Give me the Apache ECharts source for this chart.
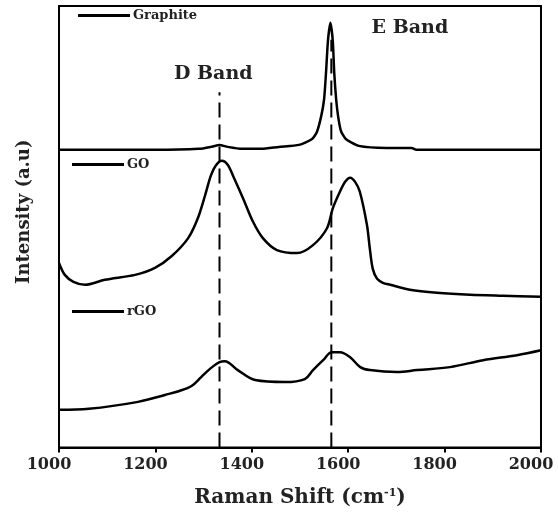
<!DOCTYPE html>
<html>
<head>
<meta charset="utf-8">
<script src="https://cdn.jsdelivr.net/npm/echarts@6/dist/echarts.min.js"></script>
<style>html,body{margin:0;padding:0;background:#fff}#c{width:558px;height:513px}</style>
</head>
<body>
<div id="c"></div>
<script>
// Raman shift (cm^-1) and intensity (a.u., offset stacked)
var graphiteX = [1000,1100,1200,1290,1315,1333,1350,1380,1420,1456,1498,1525,1535,1544,1550,1554,1558,1563,1568,1571,1575,1579,1585,1595,1622,1680,1732,1741,1800,1900,2000];
var graphiteY = [300,300,300,301,303,305,303,301,301,303,305,311,318,334,351,378,410,428,410,378,351,334,319,311,304,302,302,300,300,300,300];

var goX = [1000,1012,1030,1054,1095,1158,1199,1234,1268,1288,1303,1315,1325,1338,1350,1361,1382,1402,1423,1452,1494,1527,1556,1568,1583,1594,1604,1614,1624,1639,1645,1651,1660,1672,1687,1728,1784,1853,1921,2000];
var goY = [186,174,167,164,169,174,181,193,211,231,254,274,284,289,285,274,251,228,211,199,196,204,221,241,258,268,272,268,258,224,200,180,170,166,164,159,156,154,153,152];

var rgoX = [1000,1062,1164,1220,1250,1275,1295,1315,1333,1344,1371,1407,1469,1510,1527,1548,1566,1583,1604,1625,1645,1701,1743,1811,1880,1950,2000];
var rgoY = [38,39,46,53,57,62,71,80,86,87,78,68,66,69,78,88,96,96,91,81,78,76,78,81,88,93,98];

var seriesNames = ['Graphite','GO','rGO'];
var bandNames = ['D Band','E Band'];
var bandX = [1333,1565];
var bandTop = [358,411];
var bandLabelPos = [[1320,376],[1728,423]];
var xTicks = [1000,1200,1400,1600,1800,2000];

function zip(xs, ys){ return xs.map(function(x,i){ return [x, ys[i]]; }); }

var FONT = 'DejaVu Serif';
var chart = echarts.init(document.getElementById('c'));

function legendAt(name, left, top){
  return {
    data:[name], left:left, top:top, padding:0, itemGap:0,
    icon:'rect', itemWidth:52, itemHeight:3,
    textStyle:{fontFamily:FONT, fontWeight:'bold', fontSize:13, color:'#222', padding:[0,0,0,-2]}
  };
}

var series = [
  {
    name:seriesNames[0], type:'line', data:zip(graphiteX, graphiteY), symbol:'none',
    smooth:0.2,
    lineStyle:{color:'#000', width:2.5}, itemStyle:{color:'#000'},
    markPoint:{
      silent:true, symbol:'circle', symbolSize:1, itemStyle:{color:'rgba(0,0,0,0)'},
      label:{show:true, position:'inside', fontFamily:FONT, fontWeight:'bold', fontSize:19, color:'#222',
             formatter:function(p){ return p.name; }},
      data:bandNames.map(function(n,i){ return {name:n, coord:bandLabelPos[i]}; })
    }
  },
  {
    name:seriesNames[1], type:'line', data:zip(goX, goY), symbol:'none',
    smooth:0.3,
    lineStyle:{color:'#000', width:2.5}, itemStyle:{color:'#000'}
  },
  {
    name:seriesNames[2], type:'line', data:zip(rgoX, rgoY), symbol:'none',
    smooth:0.35,
    lineStyle:{color:'#000', width:2.5}, itemStyle:{color:'#000'}
  }
];
bandX.forEach(function(x,i){
  series.push({
    name:bandNames[i] + ' position', type:'line', symbol:'none', silent:true, z:1,
    data:[[x,0],[x,bandTop[i]]],
    lineStyle:{color:'#000', width:2, type:[15,7]}
  });
});

chart.setOption({
  animation:false,
  backgroundColor:'#fff',
  grid:{left:59, right:17, top:6, bottom:62, show:true, borderColor:'#000', borderWidth:2},
  legend:[legendAt('Graphite',78,9), legendAt('GO',72,158), legendAt('rGO',72,305)],
  xAxis:{
    type:'value', min:xTicks[0], max:xTicks[xTicks.length-1], interval:200,
    axisLine:{show:true, lineStyle:{color:'#000', width:2}},
    axisTick:{show:true, inside:false, length:5, lineStyle:{color:'#000', width:2}},
    splitLine:{show:false},
    axisLabel:{fontFamily:FONT, fontWeight:'bold', fontSize:16, color:'#222', margin:9, padding:[0,20,0,0],
               formatter:function(v){ return String(v); }},
    name:'{n|Raman Shift (cm}{s|-1}{n|)}', nameLocation:'middle', nameGap:40,
    nameTextStyle:{
      rich:{
        n:{fontFamily:FONT, fontWeight:'bold', fontSize:20, color:'#222'},
        s:{fontFamily:FONT, fontWeight:'bold', fontSize:11, color:'#222', verticalAlign:'top', padding:[0,0,10,0]}
      }
    }
  },
  yAxis:{
    type:'value', min:0, max:445,
    axisLine:{show:true, lineStyle:{color:'#000', width:2}},
    axisTick:{show:false}, axisLabel:{show:false}, splitLine:{show:false},
    name:'Intensity (a.u)', nameLocation:'middle', nameGap:26,
    nameTextStyle:{fontFamily:FONT, fontWeight:'bold', fontSize:18, color:'#222', padding:[0,0,0,30]}
  },
  series:series
});
</script>
</body>
</html>
